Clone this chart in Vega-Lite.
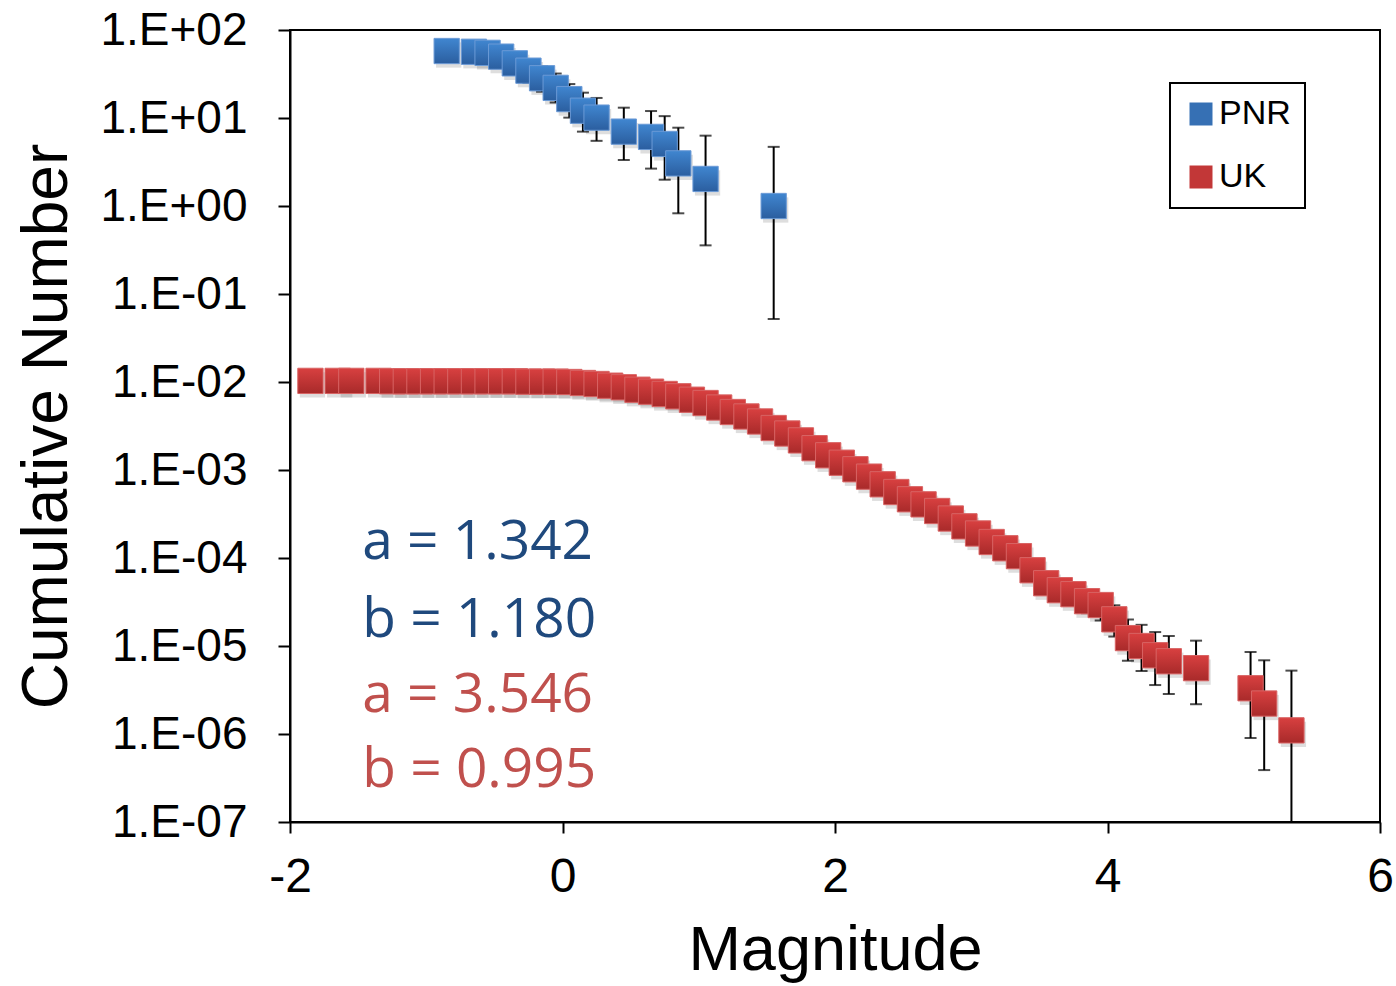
{
  "$schema": "https://vega.github.io/schema/vega-lite/v6.json",
  "width": 1090,
  "height": 792,
  "autosize": "none",
  "padding": {"left": 290, "top": 30, "right": 16, "bottom": 164},
  "background": "white",
  "datasets": {
    "pts": [
      {"series": "PNR", "m": -0.85, "n": 57.7, "lo": 46, "hi": 72},
      {"series": "PNR", "m": -0.65, "n": 56.6, "lo": 45, "hi": 71},
      {"series": "PNR", "m": -0.55, "n": 55, "lo": 43, "hi": 69},
      {"series": "PNR", "m": -0.45, "n": 49.8, "lo": 38, "hi": 63},
      {"series": "PNR", "m": -0.35, "n": 41.8, "lo": 31, "hi": 54},
      {"series": "PNR", "m": -0.25, "n": 34.5, "lo": 25, "hi": 46},
      {"series": "PNR", "m": -0.15, "n": 28.3, "lo": 19.9, "hi": 39},
      {"series": "PNR", "m": -0.05, "n": 22, "lo": 15, "hi": 32},
      {"series": "PNR", "m": 0.05, "n": 16.4, "lo": 10.1, "hi": 24.3},
      {"series": "PNR", "m": 0.15, "n": 12.1, "lo": 7.0, "hi": 19.4},
      {"series": "PNR", "m": 0.25, "n": 10.1, "lo": 5.5, "hi": 16.9},
      {"series": "PNR", "m": 0.45, "n": 7.0, "lo": 3.33, "hi": 13.1},
      {"series": "PNR", "m": 0.65, "n": 6.1, "lo": 2.66, "hi": 12.0},
      {"series": "PNR", "m": 0.75, "n": 5.07, "lo": 1.99, "hi": 10.5},
      {"series": "PNR", "m": 0.85, "n": 3.05, "lo": 0.826, "hi": 7.76},
      {"series": "PNR", "m": 1.05, "n": 2.03, "lo": 0.357, "hi": 6.3},
      {"series": "PNR", "m": 1.55, "n": 1.0, "lo": 0.052, "hi": 4.7},
      {"series": "UK", "m": -1.85, "n": 0.0103},
      {"series": "UK", "m": -1.65, "n": 0.0103},
      {"series": "UK", "m": -1.55, "n": 0.0103},
      {"series": "UK", "m": -1.35, "n": 0.0103},
      {"series": "UK", "m": -1.25, "n": 0.0102},
      {"series": "UK", "m": -1.15, "n": 0.0102},
      {"series": "UK", "m": -1.05, "n": 0.0102},
      {"series": "UK", "m": -0.95, "n": 0.0102},
      {"series": "UK", "m": -0.85, "n": 0.0102},
      {"series": "UK", "m": -0.75, "n": 0.0102},
      {"series": "UK", "m": -0.65, "n": 0.0102},
      {"series": "UK", "m": -0.55, "n": 0.0102},
      {"series": "UK", "m": -0.45, "n": 0.0102},
      {"series": "UK", "m": -0.35, "n": 0.0102},
      {"series": "UK", "m": -0.25, "n": 0.0101},
      {"series": "UK", "m": -0.15, "n": 0.0101},
      {"series": "UK", "m": -0.05, "n": 0.0101},
      {"series": "UK", "m": 0.05, "n": 0.0100},
      {"series": "UK", "m": 0.15, "n": 0.00974},
      {"series": "UK", "m": 0.25, "n": 0.00949},
      {"series": "UK", "m": 0.35, "n": 0.00908},
      {"series": "UK", "m": 0.45, "n": 0.00871},
      {"series": "UK", "m": 0.55, "n": 0.00817},
      {"series": "UK", "m": 0.65, "n": 0.00776},
      {"series": "UK", "m": 0.75, "n": 0.00731},
      {"series": "UK", "m": 0.85, "n": 0.00688},
      {"series": "UK", "m": 0.95, "n": 0.00629},
      {"series": "UK", "m": 1.05, "n": 0.00577},
      {"series": "UK", "m": 1.15, "n": 0.00513},
      {"series": "UK", "m": 1.25, "n": 0.00456},
      {"series": "UK", "m": 1.35, "n": 0.00406},
      {"series": "UK", "m": 1.45, "n": 0.00356},
      {"series": "UK", "m": 1.55, "n": 0.00300},
      {"series": "UK", "m": 1.65, "n": 0.00260},
      {"series": "UK", "m": 1.75, "n": 0.00217},
      {"series": "UK", "m": 1.85, "n": 0.00177},
      {"series": "UK", "m": 1.95, "n": 0.00147},
      {"series": "UK", "m": 2.05, "n": 0.00121},
      {"series": "UK", "m": 2.15, "n": 0.00102},
      {"series": "UK", "m": 2.25, "n": 0.000841},
      {"series": "UK", "m": 2.35, "n": 0.000688},
      {"series": "UK", "m": 2.45, "n": 0.000562},
      {"series": "UK", "m": 2.55, "n": 0.000465},
      {"series": "UK", "m": 2.65, "n": 0.000407},
      {"series": "UK", "m": 2.75, "n": 0.000342},
      {"series": "UK", "m": 2.85, "n": 0.000281},
      {"series": "UK", "m": 2.95, "n": 0.000229},
      {"series": "UK", "m": 3.05, "n": 0.000190},
      {"series": "UK", "m": 3.15, "n": 0.000152},
      {"series": "UK", "m": 3.25, "n": 0.000129},
      {"series": "UK", "m": 3.35, "n": 0.000105},
      {"series": "UK", "m": 3.45, "n": 7.26e-5, "lo": 6.0e-5, "hi": 8.7e-5},
      {"series": "UK", "m": 3.55, "n": 5.17e-5, "lo": 4.1e-5, "hi": 6.5e-5},
      {"series": "UK", "m": 3.65, "n": 4.31e-5, "lo": 3.3e-5, "hi": 5.5e-5},
      {"series": "UK", "m": 3.75, "n": 3.88e-5, "lo": 2.95e-5, "hi": 5.0e-5},
      {"series": "UK", "m": 3.85, "n": 3.23e-5, "lo": 2.36e-5, "hi": 4.3e-5},
      {"series": "UK", "m": 3.95, "n": 2.92e-5, "lo": 1.95e-5, "hi": 3.9e-5},
      {"series": "UK", "m": 4.05, "n": 2.01e-5, "lo": 1.28e-5, "hi": 2.9e-5},
      {"series": "UK", "m": 4.15, "n": 1.23e-5, "lo": 6.8e-6, "hi": 2.0e-5},
      {"series": "UK", "m": 4.25, "n": 1.0e-5, "lo": 5.2e-6, "hi": 1.74e-5},
      {"series": "UK", "m": 4.35, "n": 7.85e-6, "lo": 3.6e-6, "hi": 1.44e-5},
      {"series": "UK", "m": 4.45, "n": 6.71e-6, "lo": 2.85e-6, "hi": 1.3e-5},
      {"series": "UK", "m": 4.65, "n": 5.6e-6, "lo": 2.18e-6, "hi": 1.15e-5},
      {"series": "UK", "m": 5.05, "n": 3.31e-6, "lo": 9.0e-7, "hi": 8.55e-6},
      {"series": "UK", "m": 5.15, "n": 2.22e-6, "lo": 3.89e-7, "hi": 6.88e-6},
      {"series": "UK", "m": 5.35, "n": 1.1e-6, "lo": 1.0e-7, "hi": 5.25e-6}
    ],
    "notes": [
      {"grp": "PNR", "label": "a = 1.342", "m": -1.47, "n": 9.74e-5},
      {"grp": "PNR", "label": "b = 1.180", "m": -1.47, "n": 1.26e-5},
      {"grp": "UK", "label": "a = 3.546", "m": -1.47, "n": 1.78e-6},
      {"grp": "UK", "label": "b = 0.995", "m": -1.47, "n": 2.5e-7}
    ]
  },
  "config": {
    "view": {"stroke": "black", "strokeWidth": 2},
    "axis": {
      "grid": false,
      "domainColor": "black",
      "domainWidth": 2,
      "tickColor": "black",
      "tickWidth": 2,
      "labelFont": "Liberation Sans",
      "labelColor": "black",
      "titleFont": "Liberation Sans",
      "titleFontWeight": "normal",
      "titleColor": "black"
    },
    "legend": {
      "orient": "none",
      "legendX": 880,
      "legendY": 53,
      "strokeColor": "black",
      "padding": 14,
      "symbolType": "square",
      "symbolSize": 529,
      "symbolOpacity": 1,
      "symbolStrokeWidth": 0,
      "labelFont": "Liberation Sans",
      "labelFontSize": 34,
      "labelColor": "black",
      "labelOffset": 1,
      "rowPadding": 29
    }
  },
  "layer": [
    {
      "data": {"name": "pts"},
      "transform": [{"filter": "isValid(datum.lo)"}],
      "mark": {
        "type": "errorbar",
        "color": "black",
        "ticks": {"size": 12, "thickness": 2, "color": "black"},
        "rule": {"strokeWidth": 2, "color": "black"}
      },
      "encoding": {
        "x": {"field": "m", "type": "quantitative", "scale": {"domain": [-2, 6], "nice": false, "zero": false},
          "axis": {"values": [-2, 0, 2, 4, 6], "labelExpr": "'' + datum.value", "labelFlush": false, "labelFontSize": 48, "tickSize": 11, "labelPadding": 20, "titlePadding": 18, "titleFontSize": 63, "title": "Magnitude"}},
        "y": {"field": "lo", "type": "quantitative", "scale": {"type": "log", "domain": [1e-7, 100], "nice": false},
          "axis": {"values": [1e-7, 1e-6, 1e-5, 1e-4, 1e-3, 1e-2, 1e-1, 1, 10, 100], "tickSize": 12, "labelFontSize": 46, "labelFlush": false,
            "labelExpr": "'1.E' + (datum.value >= 0.999 ? '+' : '-') + (abs(round(log(datum.value)/LN10)) < 10 ? '0' : '') + abs(round(log(datum.value)/LN10))",
            "labelPadding": 31, "titlePadding": 20, "titleFontSize": 64, "title": "Cumulative Number"}},
        "y2": {"field": "hi"}
      }
    },
    {
      "data": {"name": "pts"},
      "mark": {"type": "point", "shape": "square", "filled": true, "size": 640, "opacity": 0.13, "color": "black", "xOffset": 2, "yOffset": 4},
      "encoding": {
        "x": {"field": "m", "type": "quantitative"},
        "y": {"field": "n", "type": "quantitative"}
      }
    },
    {
      "data": {"name": "pts"},
      "mark": {"type": "point", "shape": "square", "filled": true, "size": 640, "opacity": 0},
      "encoding": {
        "x": {"field": "m", "type": "quantitative"},
        "y": {"field": "n", "type": "quantitative"},
        "color": {"field": "series", "type": "nominal",
          "scale": {"domain": ["PNR", "UK"], "range": ["#3670b4", "#c23737"]},
          "legend": {"title": null, "encode": {"legend": {"update": {"strokeWidth": {"value": 2}}}}}}
      }
    },
    {
      "data": {"name": "pts"},
      "transform": [{"filter": "datum.series === 'PNR'"}],
      "mark": {"type": "point", "shape": "square", "filled": true, "size": 640, "strokeWidth": 1, "stroke": "#6b9ad6", "opacity": 1,
        "fill": {"gradient": "linear", "x1": 0, "y1": 0, "x2": 0, "y2": 1,
          "stops": [{"offset": 0, "color": "#4086d0"}, {"offset": 1, "color": "#2b5e9f"}]}},
      "encoding": {
        "x": {"field": "m", "type": "quantitative"},
        "y": {"field": "n", "type": "quantitative"}
      }
    },
    {
      "data": {"name": "pts"},
      "transform": [{"filter": "datum.series === 'UK'"}],
      "mark": {"type": "point", "shape": "square", "filled": true, "size": 640, "strokeWidth": 1, "stroke": "#d86464", "opacity": 1,
        "fill": {"gradient": "linear", "x1": 0, "y1": 0, "x2": 0, "y2": 1,
          "stops": [{"offset": 0, "color": "#d84040"}, {"offset": 1, "color": "#a82a2a"}]}},
      "encoding": {
        "x": {"field": "m", "type": "quantitative"},
        "y": {"field": "n", "type": "quantitative"}
      }
    },
    {
      "data": {"name": "notes"},
      "mark": {"type": "text", "align": "left", "baseline": "alphabetic", "font": "Open Sans", "fontSize": 55},
      "encoding": {
        "x": {"field": "m", "type": "quantitative"},
        "y": {"field": "n", "type": "quantitative"},
        "text": {"field": "label"},
        "color": {"condition": {"test": "datum.grp === 'PNR'", "value": "#1f497d"}, "value": "#c0504d"}
      }
    }
  ]
}
